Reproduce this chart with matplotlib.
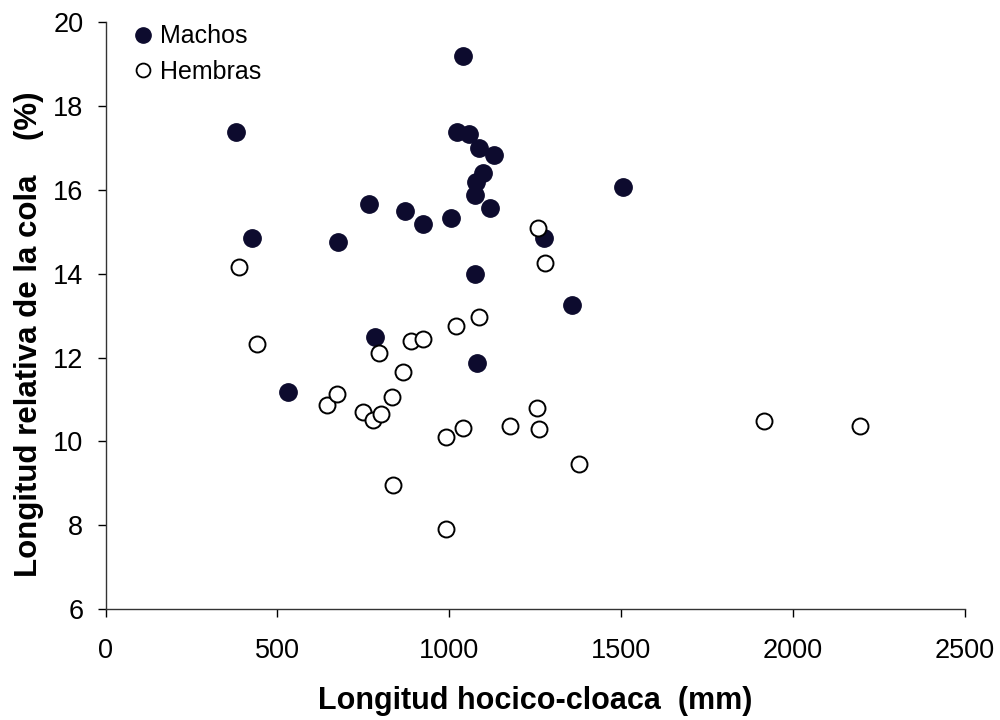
import matplotlib
matplotlib.use("Agg")
import matplotlib.pyplot as plt
from matplotlib.lines import Line2D

plt.rcParams['font.family'] = ['Liberation Sans', 'DejaVu Sans']

# Machos (filled markers)
machos_x = [380, 425, 530, 678, 767, 784, 872, 923, 1005, 1024, 1041, 1059,
            1075, 1076, 1078, 1080, 1088, 1100, 1119, 1131, 1277, 1357, 1507]
machos_y = [17.38, 14.85, 11.19, 14.77, 15.66, 12.50, 15.49, 15.19, 15.34, 17.39,
            19.20, 17.34, 14.00, 15.87, 16.20, 11.87, 17.00, 16.40, 15.57, 16.83,
            14.85, 13.26, 16.08]

# Hembras (open markers)
hembras_x = [389, 440, 645, 675, 750, 778, 795, 802, 833, 838, 865, 890, 923,
             990, 990, 1019, 1040, 1088, 1177, 1255, 1258, 1262, 1279, 1378,
             1916, 2196]
hembras_y = [14.17, 12.32, 10.87, 11.13, 10.70, 10.51, 12.10, 10.65, 11.05, 8.97,
             11.66, 12.40, 12.45, 10.11, 7.90, 12.76, 10.31, 12.96, 10.37, 10.79,
             15.10, 10.29, 14.25, 9.46, 10.50, 10.38]

x_ticks = [0, 500, 1000, 1500, 2000, 2500]
y_ticks = [6, 8, 10, 12, 14, 16, 18, 20]

navy = '#0d0b2e'

fig = plt.figure(figsize=(10, 7.2), dpi=100)
ax = fig.add_axes([0.1055, 0.154, 0.859, 0.815])

ax.plot(machos_x, machos_y, linestyle='none', marker='o', markersize=12.5,
        markerfacecolor=navy, markeredgecolor=navy, markeredgewidth=1.0)
ax.plot(hembras_x, hembras_y, linestyle='none', marker='o', markersize=11.5,
        markerfacecolor='white', markeredgecolor='black', markeredgewidth=1.4)

ax.set_xlim(0, 2500)
ax.set_ylim(6, 20)
ax.set_xticks(x_ticks)
ax.set_yticks(y_ticks)
ax.tick_params(axis='both', direction='out', length=6, width=1.0,
               labelsize=19.5, colors='black')
ax.tick_params(axis='x', pad=15)
ax.tick_params(axis='y', pad=10)

for side in ('top', 'right'):
    ax.spines[side].set_visible(False)
for side in ('left', 'bottom'):
    ax.spines[side].set_linewidth(1.0)
    ax.spines[side].set_color('#333333')

ax.set_xlabel('Longitud hocico-cloaca  (mm)', fontsize=22, fontweight='bold')
ax.set_ylabel('Longitud relativa de la cola    (%)', fontsize=22.5,
              fontweight='bold')
ax.xaxis.set_label_coords(0.5, -0.131)
ax.yaxis.set_label_coords(-0.072, 0.468)

handles = [
    Line2D([], [], linestyle='none', marker='o', markersize=11,
           markerfacecolor=navy, markeredgecolor=navy, label='Machos'),
    Line2D([], [], linestyle='none', marker='o', markersize=10,
           markerfacecolor='white', markeredgecolor='black',
           markeredgewidth=1.3, label='Hembras'),
]
ax.legend(handles=handles, loc='upper left', frameon=False, fontsize=18,
          handletextpad=-0.1, labelspacing=0.45, borderaxespad=0.0,
          handlelength=1.6, bbox_to_anchor=(0.0085, 1.0136))

fig.savefig('out.png', dpi=100)
